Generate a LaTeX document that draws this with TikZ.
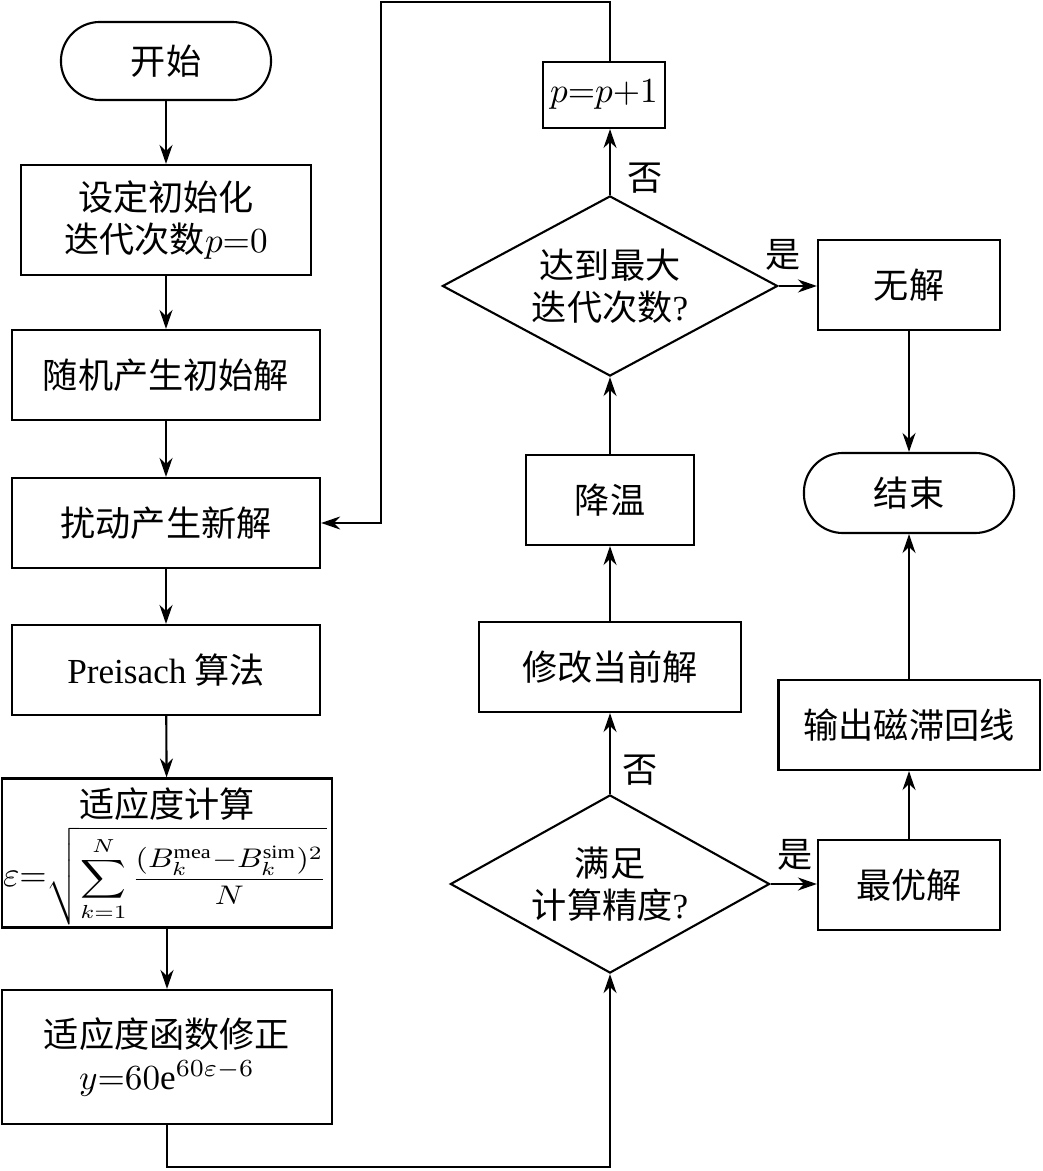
\documentclass[tikz,border=0pt]{standalone}
\usepackage{amsmath}
\usepackage{graphicx}
\usepackage{fontspec}
\setmainfont{Liberation Serif}
\newfontfamily\cjk{Noto Sans CJK SC}
\usetikzlibrary{arrows.meta,positioning,shapes.geometric}
\tikzset{
  box/.style  = {draw, line width=0.6pt, font=\cjk, inner sep=0pt, align=center},
  term/.style = {box, rounded corners=3.9mm},
  dec/.style  = {draw, diamond, line width=0.6pt, font=\cjk, inner sep=0pt, align=center},
  flow/.style = {-{Stealth[length=1.9mm,width=1.3mm]}, line width=0.6pt},
  tag/.style  = {font=\cjk},
}

\begin{document}
\begin{tikzpicture}[x=0.01cm,y=-0.01cm]
  \useasboundingbox (0,0) rectangle (1042,1171);
  % left column
  \node[term, minimum width=2.1cm, minimum height=0.78cm] (start) at (166,61) {开始};
  \node[box, minimum width=2.9cm, minimum height=1.1cm] (init) at (166,220) {设定初始化\\迭代次数$p{=}0$};
  \node[box, minimum width=3.08cm, minimum height=0.9cm] (rand) at (166,375) {随机产生初始解};
  \node[box, minimum width=3.08cm, minimum height=0.9cm] (new) at (166,523) {扰动产生新解};
  \node[box, minimum width=3.08cm, minimum height=0.9cm] (pre) at (166,670) {{\rmfamily Preisach} 算法};
  \node[box, minimum width=3.3cm, minimum height=1.49cm] (fit) at (167,853) {};
  \node[tag] (fittitle) at (167,804) {适应度计算};
  \node[inner sep=0pt] (fitform) at (165,876)
    {$\varepsilon{=}$\resizebox*{2.8cm}{0.98cm}{$\displaystyle\sqrt{\sum_{k=1}^{N}\frac{(B_k^{\mathrm{mea}}{-}B_k^{\mathrm{sim}})^2}{N}}$}};
  \node[box, minimum width=3.3cm, minimum height=1.34cm] (fix) at (167,1057)
    {适应度函数修正\\$y{=}60\mathrm{e}^{60\varepsilon-6}$};
  % middle column
  \node[box, minimum width=1.22cm, minimum height=0.66cm] (pp1) at (604,95) {$p{=}p{+}1$};
  \node[dec, aspect=1.86, minimum width=3.35cm, minimum height=1.8cm] (maxit) at (610,286) {达到最大\\迭代次数{\rmfamily ?}};
  \node[box, minimum width=1.68cm, minimum height=0.9cm] (cool) at (610,500) {降温};
  \node[box, minimum width=2.61cm, minimum height=0.9cm] (mod) at (610,667) {修改当前解};
  \node[dec, aspect=1.79, minimum width=3.19cm, minimum height=1.78cm] (acc) at (610,884) {满足\\计算精度{\rmfamily ?}};
  % right column
  \node[box, minimum width=1.82cm, minimum height=0.9cm] (none) at (909,285) {无解};
  \node[term, minimum width=2.1cm, minimum height=0.8cm] (end) at (909,493) {结束};
  \node[box, minimum width=2.61cm, minimum height=0.9cm] (out) at (909,725) {输出磁滞回线};
  \node[box, minimum width=1.82cm, minimum height=0.9cm] (opt) at (909,885) {最优解};
  % labels
  \node[tag] (no1) at (645,178) {否};
  \node[tag] (yes1) at (783,255) {是};
  \node[tag] (no2) at (640,770) {否};
  \node[tag] (yes2) at (795,855) {是};
  % corners
  \coordinate (tl) at (381,2);
  \coordinate (bl) at (167,1167);
  % connectors
  \draw[flow] (start) -- (init);
  \draw[flow] (init) -- (rand);
  \draw[flow] (rand) -- (new);
  \draw[flow] (new) -- (pre);
  \draw[flow] (pre) -- (fit);
  \draw[flow] (fit) -- (fix);
  \draw[flow] (fix.south) -- (bl) -| (acc.south);
  \draw[flow] (acc.east) -- (acc.east -| opt.west);
  \draw[flow] (acc) -- (mod);
  \draw[flow] (mod) -- (cool);
  \draw[flow] (cool) -- (maxit);
  \draw[flow] (maxit.north) -- (maxit.north |- pp1.south);
  \draw[flow] (maxit.north |- pp1.north) |- (tl) |- (new.east);
  \draw[flow] (maxit.east) -- (maxit.east -| none.west);
  \draw[flow] (none) -- (end);
  \draw[flow] (opt) -- (out);
  \draw[flow] (out) -- (end);
\end{tikzpicture}
\end{document}
